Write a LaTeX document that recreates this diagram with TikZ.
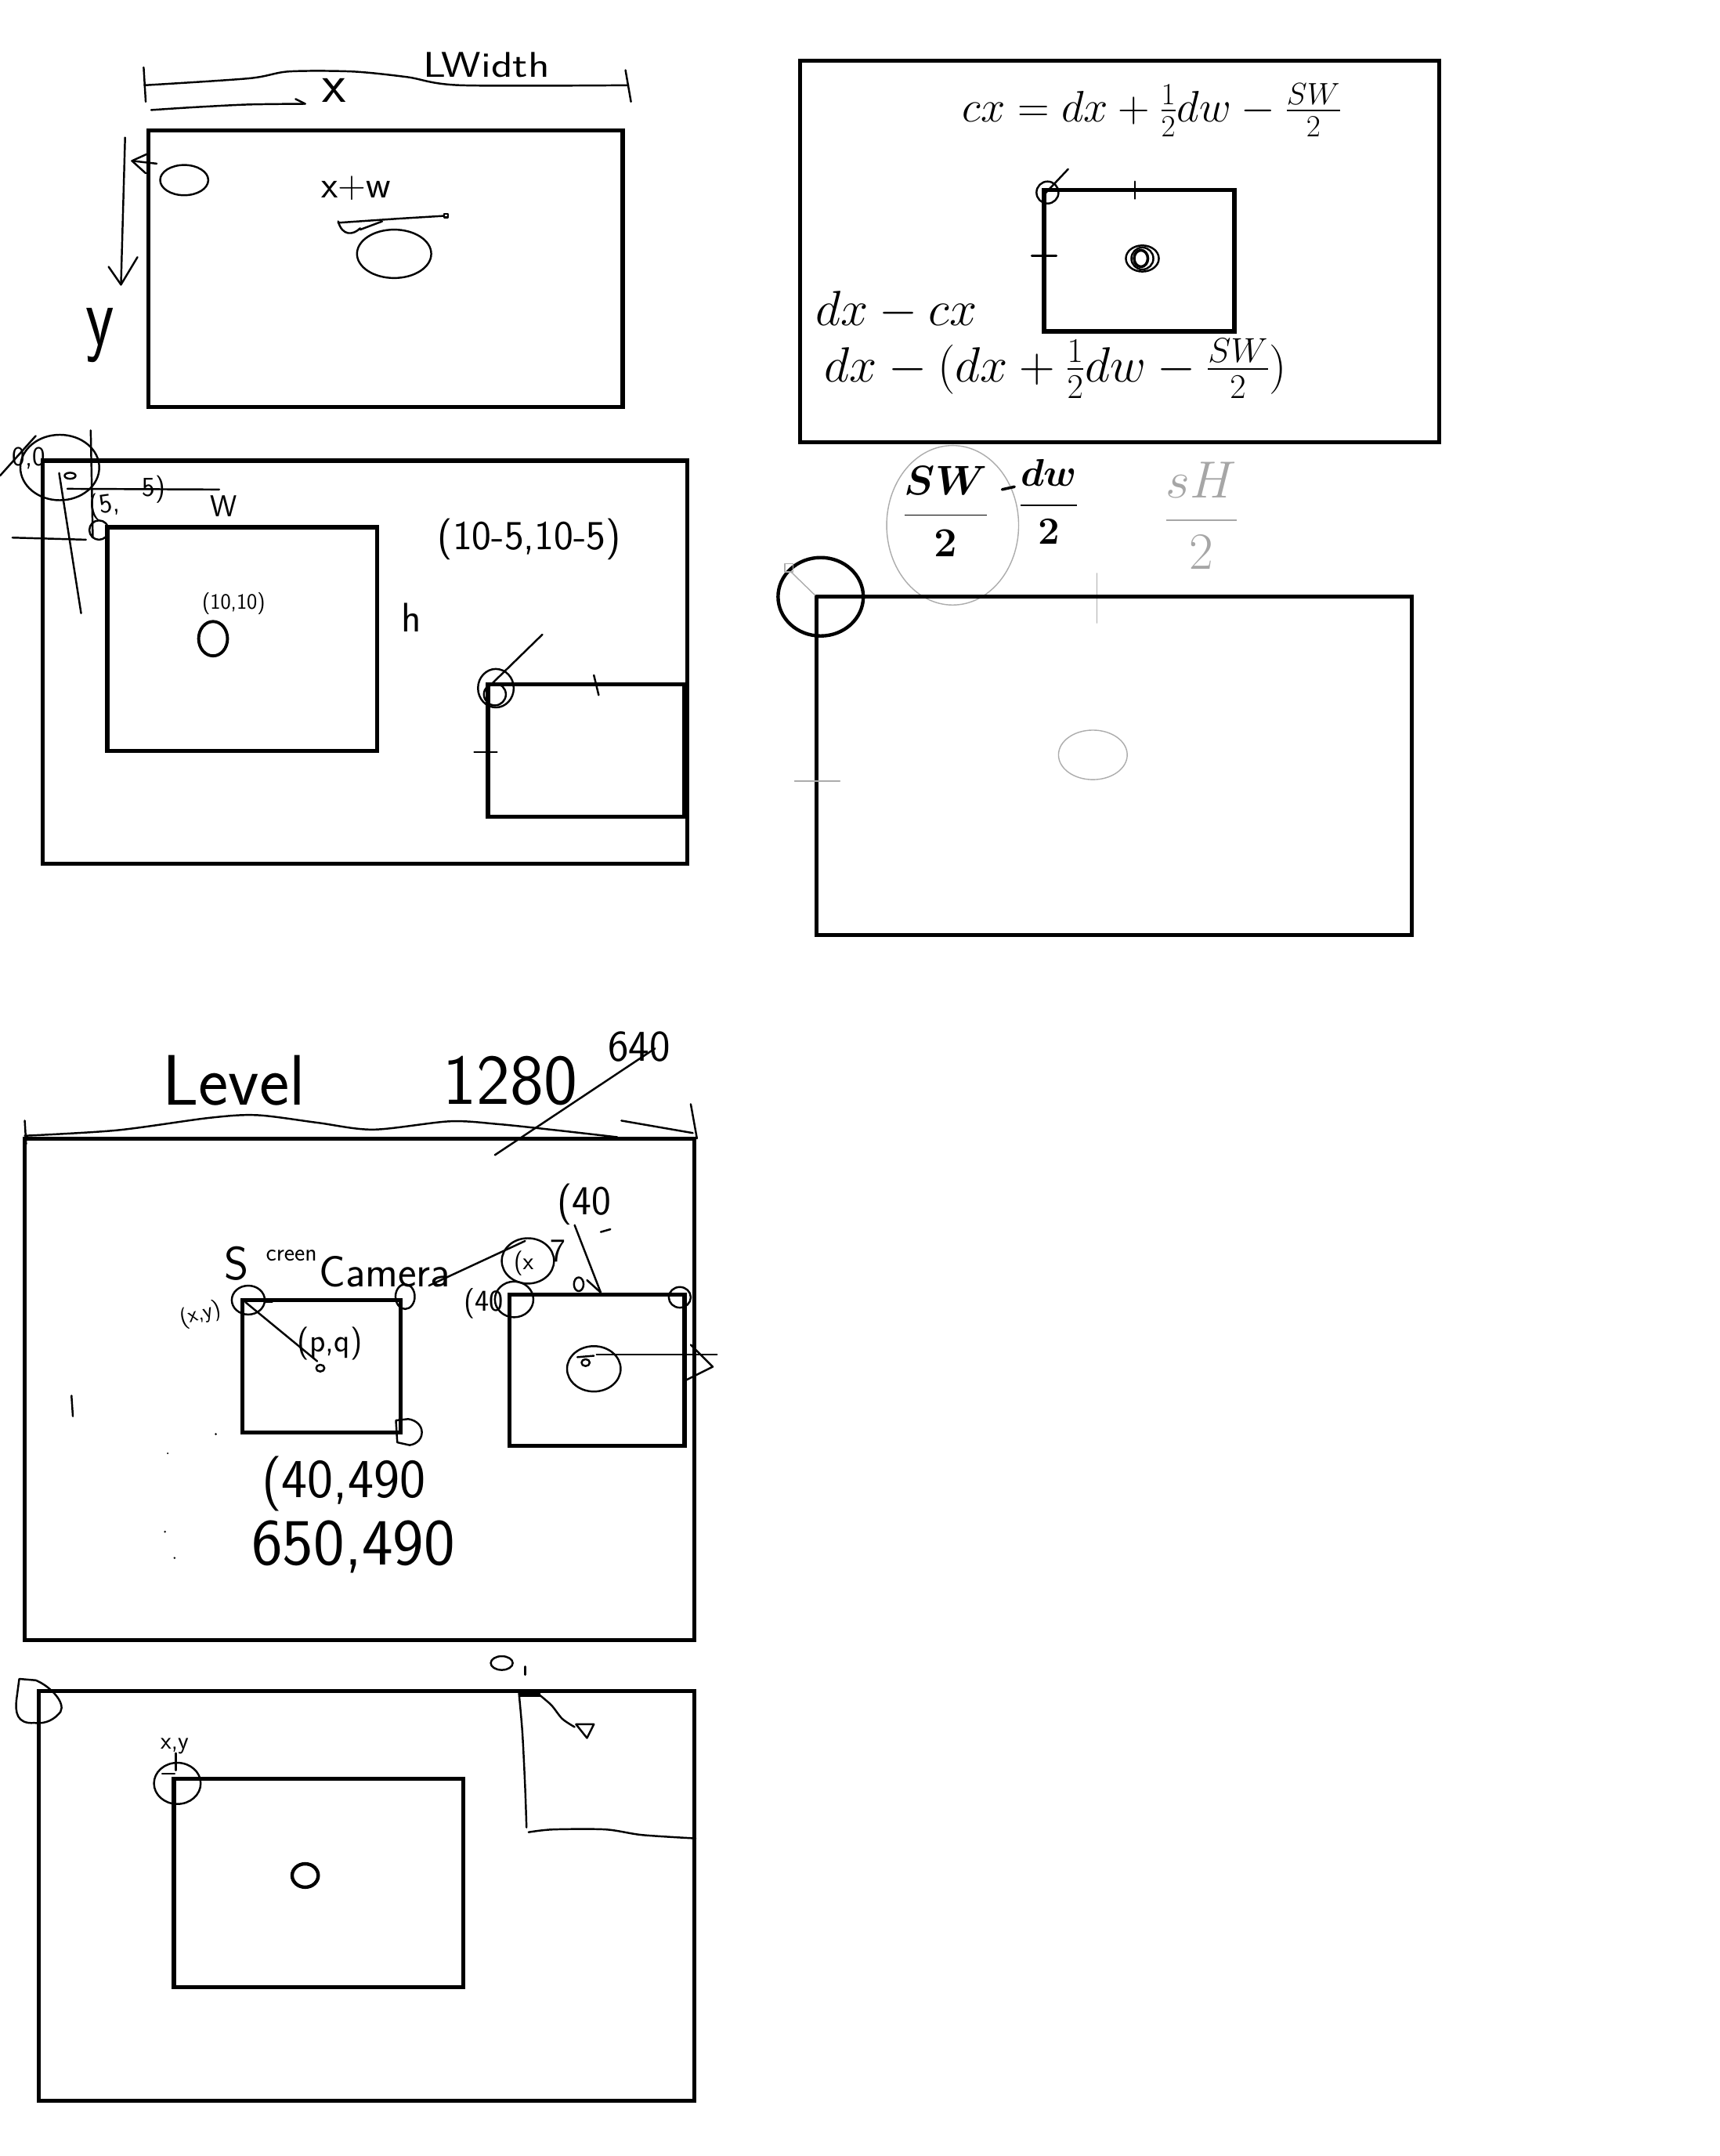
\RequirePackage{fix-cm}
\documentclass[tikz,border=0pt]{standalone}
\usepackage{amsmath}
\tikzset{
  box/.style={line width=3pt, line join=miter},
  pen/.style={line width=1.4pt, line cap=round, line join=round},
  gpen/.style={line width=0.8pt, gray!65, line cap=round, line join=round},
  hw/.style={inner sep=0pt, font=\sffamily\fontsize{#1}{#1}\selectfont},
  hm/.style={inner sep=0pt, font=\fontsize{#1}{#1}\selectfont},
}
\begin{document}
\begin{tikzpicture}[x=1pt,y=-1pt]
\useasboundingbox[fill=white] (0,0) rectangle (1251,1568);

% ---------------- Panel 1 ----------------
\draw[box] (108,95) rectangle (453,296);
\draw[pen] plot[smooth] coordinates {(105,62) (181,57) (210,52) (256,52) (296,56) (335,62) (457,62)};
\draw[pen] (104.5,49) -- (106,74);
\draw[pen] (455,51) -- (459,74);
\draw[pen] plot[smooth] coordinates {(110,80) (141,78) (181,76) (222,75.5)};
\draw[pen] (215,72) -- (222,75.5);
\node[hw=40] (px) at (243,66) {x};
\node[hw=26] (lwidth) at (354,47) {\scalebox{1.25}[1]{LWidth}};
\draw[pen] (91,100) -- (88,207);
\draw[pen] (79,194) -- (88,207) -- (100,187);
\node[hw=48] (py) at (73,244) {\scalebox{1}[1.3]{y}};
\draw[pen] (107,112) -- (96,117) -- (106,126);
\draw[pen] (96,117) -- (114,119);
\draw[pen] (134,131) ellipse (17.5 and 11);
\node[hw=28] (xw) at (259,137) {x+w};
\draw[pen] (246,162) -- (290,159) -- (323,157);
\draw[pen] (323,155.5) rectangle (326,158);
\draw[pen] (246,161) .. controls (249,172) and (257,171) .. (262,166);
\draw[pen] (262,167) -- (278,161);
\draw[pen] (286.7,184.6) ellipse (27 and 17.6);

% ---------------- Panel 2 ----------------
\draw[box] (31,335) rectangle (500,628);
\draw[box] (78,383.5) rectangle (274.5,546);
\draw[box] (355,497.5) rectangle (498,594);
\draw[line width=2.2pt] (155,464.5) ellipse (10.5 and 12.5);
\node[hw=16] (p1010) at (170,439) {(10,10)};
\node[hw=30] (ph) at (299,449) {h};
\node[hw=30] (p105) at (385,392) {(10-5,10-5)};
\node[hw=22] (pW) at (163,368) {W};
\draw[pen] (49,355.5) -- (159.5,356);
\draw[pen] (66,313) -- (67.5,391);
\draw[pen] (43,344) -- (59,446);
\draw[pen] (9,391) -- (62.5,392.5);
\draw[pen] (43.5,340) ellipse (28.7 and 23.8);
\draw[pen] (0,346) -- (26,317);
\node[hw=20] (p00) at (21,333) {0,0};
\draw[pen] (51,346) ellipse (4 and 2.2);
\node[hw=20,rotate=8] (p5a) at (76,368) {(5,};
\node[hw=20] (p5b) at (112,356) {5)};
\draw[pen] (72,385.5) circle (7);
\draw[pen] (360.7,500.5) ellipse (13 and 14);
\draw[pen] (360,505) ellipse (8 and 8);
\draw[pen] (355,500) -- (394.5,461.5);
\draw[pen] (432,491) -- (435.5,505.5);
\draw[pen] (345,547) -- (361.5,547);

% ---------------- Panel 3 ----------------
\draw[box] (582,44) rectangle (1047,321.5);
\draw[box] (759.5,138) rectangle (898,241);
\draw[pen] (831,188) ellipse (12 and 9.5);
\draw[pen] (831,188) ellipse (8 and 8);
\draw[line width=2pt] (830,188) ellipse (5 and 6);
\draw[pen] (762,140) circle (8);
\draw[pen] (760,141) -- (777,123);
\draw[pen] (825.5,132) -- (825.5,144.5);
\draw[pen] (750.5,186) -- (768.5,186);
\node[hm=32] (fcx) at (838,80) {$cx = dx + \tfrac{1}{2}dw - \tfrac{SW}{2}$};
\node[hm=36] (fdxcx) at (652,226) {$dx - cx$};
\node[hm=36] (fdx2) at (768,268) {$dx - (dx + \tfrac{1}{2}dw - \tfrac{SW}{2})$};

% ---------------- Panel 4 ----------------
\draw[gpen] (693,382) ellipse (48 and 58);
\node[inner sep=0pt, font=\boldmath\fontsize{30}{30}\selectfont] (fsw) at (688,372) {$\dfrac{SW}{2}$};
\draw[line width=2pt, line cap=round] (729,356) -- (738,354);
\node[inner sep=0pt, font=\boldmath\fontsize{28}{28}\selectfont] (fdw) at (763,365) {$\dfrac{dw}{2}$};
\node[hm=38, text=gray!70] (fsh) at (874,375) {$\dfrac{sH}{2}$};
\draw[gpen] (798,417) -- (798,453);
\draw[box] (594,434) rectangle (1027,680);
\draw[line width=2.5pt] (597,434) ellipse (31 and 28.5);
\draw[gpen] (575.5,416) -- (593,433);
\draw[gpen] (571,410) rectangle (577,416);
\draw[gpen] (578,568) -- (611,568);
\draw[gpen] (795,549) ellipse (25 and 18);

% ---------------- Panel 5 ----------------
\draw[box] (18,828) rectangle (505,1193);
\draw[pen] plot[smooth] coordinates {(18,826) (85,822) (152,813) (187,811) (231,816.5) (271.5,821.5) (327,815.5) (362,817.5) (405,822) (449,827)};
\draw[pen] (452,815) -- (504,824);
\draw[pen] (18,815) -- (19,832);
\draw[pen] (502.5,803) -- (507,828);
\node[hw=52] (level) at (170,786) {Level};
\node[hw=52] (n1280) at (371,786) {1280};
\draw[pen] (360,840) -- (476.5,762.5);
\node[hw=32] (n640) at (465,761) {640};
\draw[box] (176.5,945.5) rectangle (291.5,1042);
\draw[box] (370.5,941.5) rectangle (498,1051.5);
\node[hw=34] (scrS) at (172,919) {S};
\node[hw=18] (scr) at (212,913) {creen};
\node[hw=32] (camera) at (280,925) {Camera};
\draw[pen] (312,935) -- (382,902.5);
\draw[pen] (384,917) ellipse (19 and 16.5);
\node[hw=18] (cx) at (381,919) {(x};
\node[hw=24] (c7) at (406,910) {7};
\node[hw=22] (c40b) at (352,948) {(40};
\node[hw=30] (c40) at (425,876) {(40};
\draw[pen] (418,891) -- (437,940);
\draw[pen] (427,931) -- (437,940);
\draw[pen] (421,934) ellipse (3.5 and 5);
\draw[pen] (437,896) -- (444,894);
\draw[pen] (180.6,945.5) ellipse (12 and 10.5);
\draw[pen] (193,947) -- (198,947);
\node[hw=16, rotate=15] (cxy) at (146,956) {(x,y)};
\draw[pen] (178.5,947) -- (230.8,990);
\node[hw=24] (cpq) at (240,977) {(p,q)};
\draw[pen] (233,995) ellipse (3 and 2.5);
\draw[pen] (294.7,943) ellipse (7 and 9);
\draw[pen] (288,1033) -- (297,1032) .. controls (310,1034) and (310,1049) .. (298,1051) -- (289,1049) -- cycle;
\draw[pen] (374,945) ellipse (14 and 13);
\draw[pen] (494.5,943.5) ellipse (8 and 7.5);
\draw[pen] (432,995.5) ellipse (19.5 and 16.5);
\draw[pen] (420,987) -- (432,986);
\draw[pen] (426,991) ellipse (3 and 2.5);
\draw[pen] (434,985) -- (521.5,985);
\draw[pen] (502.5,978) -- (518.5,994) -- (499.5,1003.5);
\node[hw=40] (c40490) at (250,1079) {(40,490};
\node[hw=48] (c650490) at (257,1125) {650,490};
\draw[pen] (52,1015) -- (53,1030);
\fill (157,1043) circle (0.8);
\fill (120,1114) circle (0.8);
\fill (127,1133) circle (0.8);
\fill (122,1057) circle (0.6);

% ---------------- Panel 6 ----------------
\draw[box] (28,1230) rectangle (505,1528);
\draw[box] (126.5,1293.5) rectangle (337,1445);
\draw[line width=2.5pt] (222,1364) ellipse (9.5 and 8.5);
\draw[pen] (14,1221) -- (26,1222) .. controls (36,1226) and (48,1238) .. (44,1245) .. controls (40,1250) and (34,1254) .. (25,1253) .. controls (12,1254) and (11,1245) .. (12,1236) -- cycle;
\node[hw=18] (bxy) at (127,1270) {x,y};
\draw[pen] (129,1297) ellipse (17 and 15);
\draw[pen] (128,1275) -- (128,1287.5);
\draw[pen] (118,1290) -- (127,1290);
\draw[pen] (365,1209.5) ellipse (8 and 5);
\draw[pen] (382,1212) -- (382,1218);
\draw[pen] plot[smooth] coordinates {(377.5,1231.5) (380,1260) (382,1300) (383,1329)};
\draw[pen] plot[smooth] coordinates {(384.5,1332.5) (402.5,1330.5) (440.5,1330.5) (467,1334.5) (506,1337)};
\draw[pen] plot[smooth] coordinates {(391,1231.5) (401,1240) (409,1250) (418,1256)};
\draw[pen] (419,1254) -- (432,1254) -- (427,1264) -- cycle;
\fill (377,1229) rectangle (393,1234);
\end{tikzpicture}
\end{document}
